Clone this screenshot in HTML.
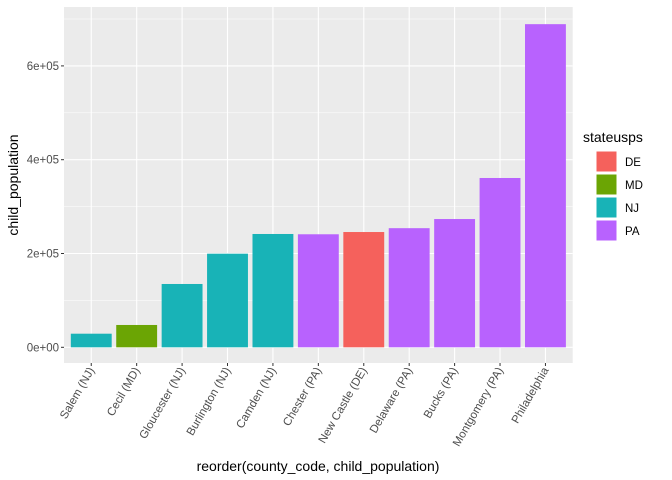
<!DOCTYPE html>
<html><head><meta charset="utf-8"><style>
body{margin:0;background:#fff;}
svg{display:block;font-family:"Liberation Sans",sans-serif;}
</style></head><body>
<svg id="chart" width="672" height="480" xmlns="http://www.w3.org/2000/svg">
<rect x="64" y="7" width="508.7" height="356" fill="#ebebeb"/>
<g id="grid"></g><g id="bars"></g><g id="axes"></g><g id="legend"></g>
<text x="318" y="471" font-size="14" text-anchor="middle" fill="#000">reorder(county_code, child_population)</text>
<text transform="translate(18,185) rotate(-90)" font-size="14" text-anchor="middle" fill="#000">child_population</text>
</svg>
<script>
const categories=["Salem (NJ)","Cecil (MD)","Gloucester (NJ)","Burlington (NJ)","Camden (NJ)","Chester (PA)","New Castle (DE)","Delaware (PA)","Bucks (PA)","Montgomery (PA)","Philadelphia"];
const values=[29000,47600,135000,199600,241600,241000,245800,254000,273500,361000,689000];
const states=["NJ","MD","NJ","NJ","NJ","PA","DE","PA","PA","PA","PA"];
const yTicks=[0,200000,400000,600000];
const yTickLabels=["0e+00","2e+05","4e+05","6e+05"];
const legendStates=["DE","MD","NJ","PA"];
const fills={DE:"#f5615c",MD:"#6ba504",NJ:"#18b3b7",PA:"#b862fe"};
const NS="http://www.w3.org/2000/svg";
const px0=64,px1=572.7,py0=7,py1=363;
const step=(px1-px0)/(categories.length+0.2);
function x(i){return px0+step*0.6+i*step;}
function y(v){return 347.3-v*(93.8/200000);}
function mk(t,a,p){const e=document.createElementNS(NS,t);for(const k in a)e.setAttribute(k,a[k]);p.appendChild(e);return e;}
const grid=document.getElementById('grid'),bars=document.getElementById('bars'),axes=document.getElementById('axes'),lg=document.getElementById('legend');
for(let i=0;i<yTicks.length;i++){
  const gy=y(yTicks[i]);
  const l=mk('line',{x1:px0,x2:px1,y1:gy,y2:gy,stroke:'#fff','stroke-width':1.1},grid);
  
  
  if(i<yTicks.length-1){const my=y((yTicks[i]+yTicks[i+1])/2);
    const m=mk('line',{x1:px0,x2:px1,y1:my,y2:my,stroke:'#fff','stroke-width':0.5},grid);
    
    }
  const t=mk('line',{x1:px0-3,x2:px0,y1:gy,y2:gy,stroke:'#333','stroke-width':1},axes);
  
  
  const tx=mk('text',{x:px0-5,y:gy+4,'font-size':'11.5','text-anchor':'end',fill:'#4d4d4d'},axes);
  tx.textContent=yTickLabels[i];
  
  
}
const topMinor=y(700000);
const tm=mk('line',{x1:px0,x2:px1,y1:topMinor,y2:topMinor,stroke:'#fff','stroke-width':0.5},grid);


const bw=step*0.9;
categories.forEach((c,i)=>{
  const cx=x(i);
  const g=mk('line',{x1:cx,x2:cx,y1:py0,y2:py1,stroke:'#fff','stroke-width':1.1},grid);
  
  
  const r=mk('rect',{x:cx-bw/2,y:y(values[i]),width:bw,height:y(0)-y(values[i]),fill:fills[states[i]]},bars);
  
  
  const t=mk('line',{x1:cx,x2:cx,y1:py1,y2:py1+3,stroke:'#333','stroke-width':1},axes);
  
  
  const tx=mk('text',{transform:`translate(${cx+3.5},${py1+7}) rotate(-60)`,'font-size':'11.5','text-anchor':'end',fill:'#4d4d4d'},axes);
  tx.textContent=c;
  
  
});
const lt=mk('text',{x:583,y:142,'font-size':'14',fill:'#000'},lg);
lt.textContent='stateusps';


legendStates.forEach((s,i)=>{
  const ky=151+i*23;
  const k=mk('rect',{x:596,y:ky,width:21,height:21,fill:fills[s],stroke:'#fff','stroke-width':1},lg);
  
  
  const t=mk('text',{x:625,y:ky+15,'font-size':'11.5',fill:'#000'},lg);
  t.textContent=s;
  
  
});
</script>
</body></html>
